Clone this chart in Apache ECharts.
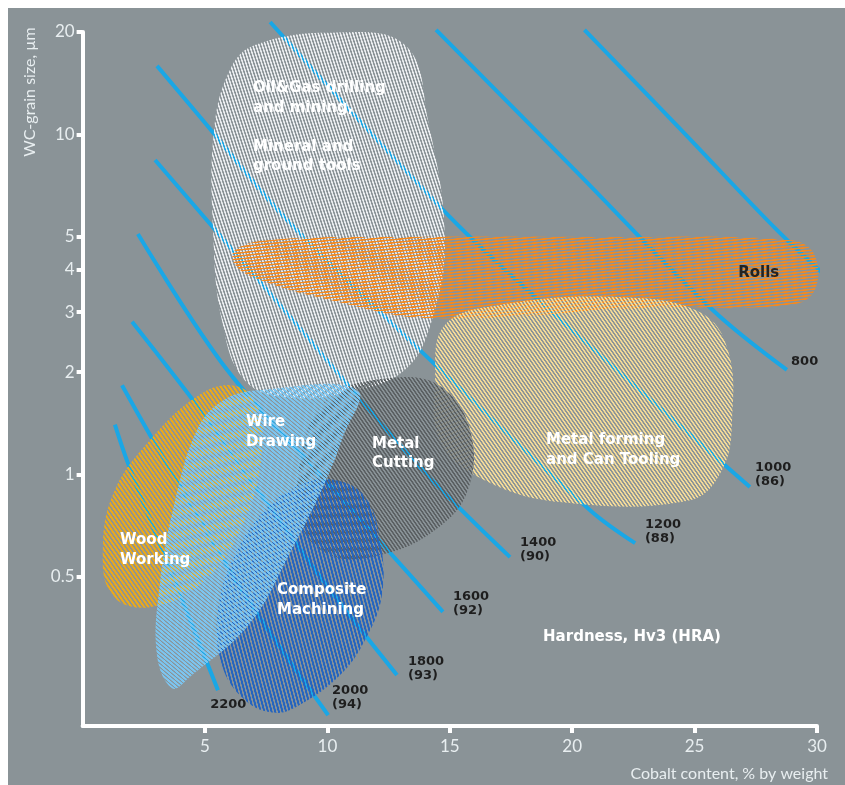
<!DOCTYPE html>
<html><head><meta charset="utf-8">
<script src="https://cdn.jsdelivr.net/npm/echarts@6/dist/echarts.min.js"></script>
<style>html,body{margin:0;padding:0;background:#fff;overflow:hidden}#c{position:absolute;left:8px;top:8px;width:837px;height:777px;}</style>
</head><body><div id="c"></div>
<script>
// ---- axes ----
const xTicks = [5, 10, 15, 20, 25, 30];
const yTicks = [0.5, 1, 2, 3, 4, 5, 10, 20];

// ---- iso-hardness lines: [cobalt %, grain size µm] ----
const hv2200 = [[1.32, 1.40], [1.85, 1.08], [3.86, 0.466], [5.53, 0.232]];
const hv2000 = [[1.61, 1.83], [2.88, 1.26], [4.80, 0.734], [6.84, 0.418], [10.03, 0.196]];
const hv1800 = [[2.02, 2.81], [4.80, 1.55], [7.45, 0.840], [10.11, 0.457], [12.84, 0.257]];
const hv1600 = [[2.26, 5.09], [5.90, 2.03], [10.31, 0.893], [14.72, 0.394]];
const hv1400 = [[2.96, 8.41], [8.06, 3.15], [13.78, 1.05], [17.46, 0.571]];
const hv1200 = [[3.04, 15.9], [4.80, 11.25], [8.35, 5.60], [13.78, 2.32], [20.73, 0.785], [22.57, 0.628]];
const hv1000 = [[7.66, 21.4], [15.01, 5.71], [19.09, 3.04], [27.26, 0.918]];
const hv800  = [[14.44, 20.3], [20.11, 7.85], [25.75, 3.04], [28.77, 2.03]];
const hv600  = [[20.5, 20.3], [24.4, 10.4], [28.4, 5.2], [30.6, 3.7]];
const hardnessLines = [hv2200, hv2000, hv1800, hv1600, hv1400, hv1200, hv1000, hv800, hv600];
const hardnessText = ['2200', '2000\n(94)', '1800\n(93)', '1600\n(92)', '1400\n(90)', '1200\n(88)', '1000\n(86)', '800', ''];
const hardnessLabelAt = [[5.21, 0.211], [10.19, 0.221], [13.29, 0.268], [15.13, 0.416], [17.87, 0.599], [22.97, 0.677], [27.47, 1.00], [28.94, 2.14], null];

// ---- application areas (outline points) ----
const oilGas = [[7.04,18.3],[10.11,19.9],[13.17,18.3],[14.11,11.0],[14.80,4.89],[14.27,2.84],[13.17,2.03],[10.92,1.75],[8.47,1.68],[6.63,1.89],[5.69,2.84],[5.33,5.23],[5.37,10.3],[6.02,15.5]];
const rolls = [[6.23,4.57],[7.66,4.89],[12.97,4.99],[21.14,4.99],[28.9,4.89],[29.9,4.42],[29.9,3.48],[28.9,3.15],[23.18,3.09],[14.2,2.88],[10.11,3.26],[7.25,3.73],[6.23,4.13]];
const metalForming = [[14.8,2.75],[17.05,3.15],[21.95,3.32],[25.22,3.00],[26.36,2.32],[26.53,1.44],[26.12,1.03],[24.81,0.840],[19.5,0.829],[16.24,0.976],[14.6,1.26],[14.4,1.89]];
const metalCutting = [[10.11,1.69],[12.56,1.92],[14.6,1.82],[15.83,1.35],[15.74,0.900],[14.4,0.686],[12.15,0.579],[10.11,0.579],[8.88,0.734],[9.08,1.26]];
const woodWorking = [[6.02,1.83],[4.59,1.68],[2.75,1.26],[1.32,0.900],[0.83,0.620],[1.21,0.442],[2.75,0.407],[5.0,0.489],[6.63,0.734],[7.33,1.18],[7.04,1.65]];
const composite = [[8.88,0.930],[10.31,0.962],[11.54,0.858],[12.15,0.641],[12.23,0.442],[11.54,0.326],[10.52,0.257],[8.88,0.210],[7.86,0.199],[6.63,0.217],[5.69,0.275],[5.53,0.399],[6.22,0.579],[7.45,0.785]];
const wireDrawing = [[5.74,1.65],[7.25,1.77],[11.21,1.77],[10.64,1.29],[9.82,0.918],[8.47,0.587],[6.84,0.365],[4.39,0.254],[3.66,0.235],[3.04,0.294],[3.16,0.479],[3.69,0.785],[4.67,1.35]];

const areaNames = ['Oil&Gas drilling\nand mining,\n\nMineral and\nground tools', 'Rolls', 'Metal forming\nand Can Tooling', 'Metal\nCutting', 'Wood\nWorking', 'Composite\nMachining', 'Wire\nDrawing', 'Hardness, Hv3 (HRA)'];
const areaLabelAt = [[6.96, 10.5], [26.78, 3.91], [18.93, 1.18], [11.82, 1.15], [1.53, 0.599], [7.94, 0.427], [6.67, 1.33], [18.81, 0.332]];

// ---- styling ----
const BG = '#8a9397';
function stripes(color, w, gap, angleDeg) {
  // drawn at 2x then scaled down for sub-pixel stripe widths
  const c = document.createElement('canvas');
  c.width = 8; c.height = w + gap;
  const g = c.getContext('2d');
  g.fillStyle = color; g.fillRect(0, 0, 8, w);
  return { image: c, repeat: 'repeat', rotation: angleDeg * Math.PI / 180, scaleX: 0.5, scaleY: 0.5 };
}
const areas = [
  { pts: oilGas, fill: stripes('rgba(240,242,244,0.95)', 3, 3, 72) },
  { pts: rolls, fill: stripes('#f5891f', 3, 3, -6) },
  { pts: metalForming, fill: stripes('#f6dc98', 3, 3, 55) },
  { pts: metalCutting, fill: stripes('#5a5f62', 3, 3, 55) },
  { pts: woodWorking, fill: stripes('#eaa91c', 4, 3, 55) },
  { pts: composite, fill: stripes('#2464bf', 4, 3, 75) },
  { pts: wireDrawing, fill: stripes('#7cc5f0', 4, 2, 40) }
];
const areaTextColor = ['#ffffff', '#222222', '#ffffff', '#ffffff', '#ffffff', '#ffffff', '#ffffff', '#ffffff'];

const chart = echarts.init(document.getElementById('c'), null, { renderer: 'canvas' });
const series = [];
hardnessLines.forEach((d, i) => {
  series.push({ type: 'line', data: d, smooth: 0.35, showSymbol: false, clip: false, silent: true, z: 2,
    lineStyle: { color: '#1aa7e6', width: 4, cap: 'butt' }, animation: false });
});
areas.forEach((a, i) => {
  series.push({ type: 'custom', data: [[0, 1]], z: 3 + i, clip: false, silent: true, animation: false,
    renderItem: (params, api) => ({ type: 'polygon', shape: { points: a.pts.map(p => api.coord(p)), smooth: 0.4 },
      style: { fill: a.fill } }) });
});
series.push({ type: 'custom', z: 20, clip: false, silent: true, animation: false,
  data: hardnessLabelAt.map((p, i) => p ? [p[0], p[1], i] : null).filter(Boolean),
  renderItem: (params, api) => { const p = api.coord([api.value(0), api.value(1)]);
    return { type: 'text', x: p[0], y: p[1], style: { text: hardnessText[api.value(2)], fill: '#1e1e1e',
      font: 'bold 13px "DejaVu Sans"', align: 'left', verticalAlign: 'middle', lineHeight: 14 } }; } });
series.push({ type: 'custom', z: 21, clip: false, silent: true, animation: false,
  data: areaLabelAt.map((p, i) => [p[0], p[1], i]),
  renderItem: (params, api) => { const p = api.coord([api.value(0), api.value(1)]); const i = api.value(2);
    return { type: 'text', x: p[0], y: p[1], style: { text: areaNames[i], fill: areaTextColor[i],
      font: 'bold 15px "DejaVu Sans"', align: 'left', verticalAlign: 'middle', lineHeight: 19.5 } }; } });

chart.setOption({
  backgroundColor: BG,
  animation: false,
  grid: { left: 74.6, right: 28, top: 24, bottom: 59 },
  xAxis: { type: 'value', min: 0, max: 30, interval: 5,
    axisLine: { lineStyle: { color: '#ffffff', width: 4 } },
    axisTick: { customValues: xTicks, length: 7, lineStyle: { color: '#ffffff', width: 4 } },
    axisLabel: { customValues: xTicks, color: '#e8eef0', fontSize: 17, fontFamily: 'Lato', margin: 12 },
    splitLine: { show: false } },
  yAxis: { type: 'log', logBase: 10, min: 0.182, max: 20,
    axisLine: { show: true, lineStyle: { color: '#ffffff', width: 4 } },
    axisTick: { show: true, customValues: yTicks, length: 6, lineStyle: { color: '#ffffff', width: 4 } },
    axisLabel: { customValues: yTicks, color: '#e8eef0', fontSize: 17, fontFamily: 'Lato', margin: 8 },
    splitLine: { show: false }, minorTick: { show: false } },
  graphic: [
    { type: 'text', x: 22, y: 84, rotation: Math.PI / 2, style: { text: 'WC-grain size, µm', fill: '#e8eef0',
      font: '16px Lato', align: 'center', verticalAlign: 'middle' } },
    { type: 'text', right: 17, top: 758, style: { text: 'Cobalt content, % by weight', fill: '#e8eef0', font: '16px Lato' } }
  ],
  series
});
</script></body></html>
